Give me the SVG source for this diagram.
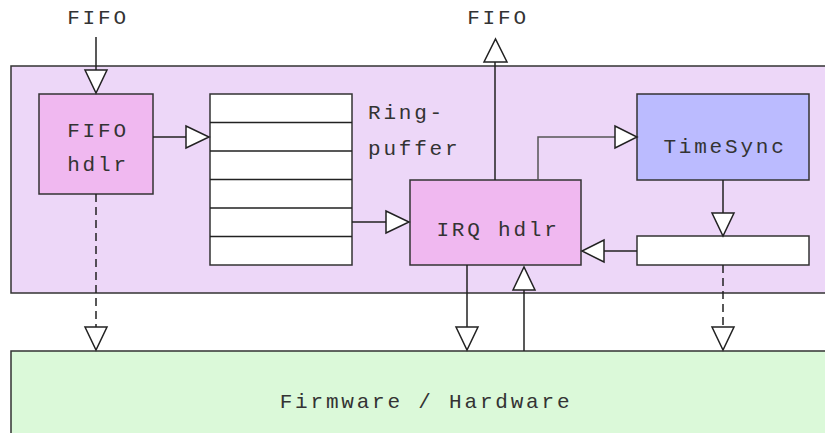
<svg xmlns="http://www.w3.org/2000/svg" width="825" height="433" viewBox="0 0 825 433">
<style>
.box{stroke:#333;stroke-width:1.5}
.t{font-family:"Liberation Mono","Courier New",monospace;font-size:21px;letter-spacing:2.8px;fill:#333;text-anchor:middle}
.ln{fill:none;stroke:#222;stroke-width:1.5}
.dash{stroke-dasharray:8,5}
.ah{fill:#fff;stroke:#222;stroke-width:1.5;stroke-linejoin:miter}
</style>
<rect width="825" height="433" fill="#fff"/>
<g id="container"><rect class="box" x="11" y="66" width="830" height="227" fill="#EDD7F8"/></g>
<g id="hardware"><rect class="box" x="11" y="351" width="830" height="100" fill="#DBF9D9"/>
<text class="t" x="426" y="408">Firmware / Hardware</text></g>
<g id="fifo-in-label"><text class="t" x="98" y="24">FIFO</text></g>
<g id="fifo-out-label"><text class="t" x="498" y="24">FIFO</text></g>
<g id="fifo-hdlr"><rect class="box" x="39" y="94" width="114" height="100" fill="#F0B8F0"/>
<text class="t" x="98" y="137">FIFO</text><text class="t" x="98" y="171">hdlr</text></g>
<g id="ringbuffer"><rect class="box" x="210" y="94" width="142" height="171" fill="#fff"/>
<path class="ln" d="M210 122.5H352M210 151H352M210 179.5H352M210 208H352M210 236.5H352"/>
<text class="t" x="368" y="119" style="text-anchor:start">Ring-</text>
<text class="t" x="368" y="155" style="text-anchor:start">puffer</text></g>
<g id="irq-hdlr"><rect class="box" x="410" y="180" width="171" height="85" fill="#F0B8F0"/>
<text class="t" x="498" y="236">IRQ hdlr</text></g>
<g id="timesync"><rect class="box" x="637" y="94" width="172" height="86" fill="#BBBBFF"/>
<text class="t" x="725" y="153">TimeSync</text></g>
<g id="timestamp"><rect class="box" x="637" y="236" width="172" height="29" fill="#fff"/></g>
<g id="connectors">
<path class="ln" d="M96 37V70"/><path class="ah" d="M85 70H107L96 93Z"/>
<path class="ln" d="M153 137H186"/><path class="ah" d="M186 126V148L209 137Z"/>
<path class="ln" d="M352 222H386"/><path class="ah" d="M386 211V233L409 222Z"/>
<path class="ln" d="M495 180V62"/><path class="ah" d="M484 62H507L495.5 39Z"/>
<path class="ln" d="M538 180V137H615" style="stroke:#555"/><path class="ah" d="M615 126V148L637 137Z"/>
<path class="ln" d="M723 180V213"/><path class="ah" d="M712 213H734L723 236Z"/>
<path class="ln" d="M637 251H604"/><path class="ah" d="M604 240V262L582 251Z"/>
<path class="ln dash" d="M96 194V327"/><path class="ah" d="M85 327H107L96 350Z"/>
<path class="ln" d="M467 265V327"/><path class="ah" d="M456 327H478L467 350Z"/>
<path class="ln dash" d="M723 265V327"/><path class="ah" d="M712 327H734L723 350Z"/>
<path class="ln" d="M524 351V290"/><path class="ah" d="M513 290H535L524 267Z"/>
</g>
</svg>
